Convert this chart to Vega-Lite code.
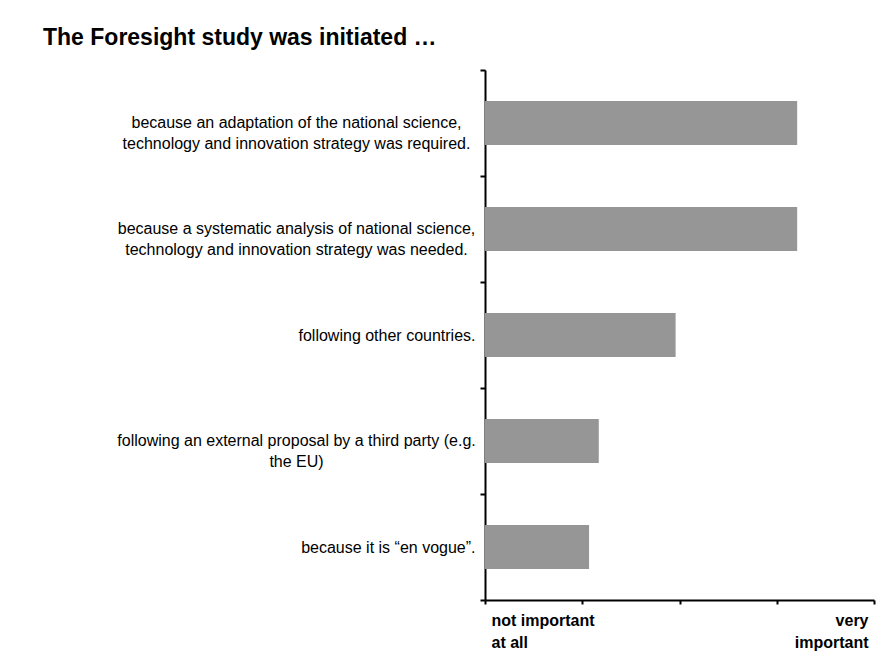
{
  "$schema": "https://vega.github.io/schema/vega-lite/v6.json",
  "width": 389,
  "height": 530,
  "autosize": {"type": "none"},
  "padding": {"left": 485, "top": 70, "right": 8, "bottom": 68},
  "background": "white",
  "title": {
    "text": "The Foresight study was initiated …",
    "anchor": "start",
    "frame": "group",
    "font": "Liberation Sans",
    "fontSize": 23,
    "fontWeight": "bold",
    "color": "black",
    "offset": 0,
    "dx": -442,
    "dy": -12
  },
  "data": {
    "values": [
      {"reason": "because an adaptation of the national science,|technology and innovation strategy was required.", "importance": 4.21},
      {"reason": "because a systematic analysis of national science,|technology and innovation strategy was needed.", "importance": 4.21},
      {"reason": "following other countries.", "importance": 2.96},
      {"reason": "following an external proposal by a third party (e.g.|the EU)", "importance": 2.17},
      {"reason": "because it is “en vogue”.", "importance": 2.07}
    ]
  },
  "encoding": {
    "y": {
      "field": "reason",
      "type": "nominal",
      "sort": null,
      "scale": {"paddingInner": 0, "paddingOuter": 0}
    },
    "x": {
      "field": "importance",
      "type": "quantitative",
      "scale": {"domain": [1, 5]},
      "axis": {
        "title": null,
        "values": [1, 2, 3, 4, 5],
        "grid": false,
        "labelExpr": "datum.value == 1 ? ['not important', 'at all'] : datum.value == 5 ? ['very', 'important'] : ''",
        "labelFont": "Liberation Sans",
        "labelFontWeight": "bold",
        "labelFontSize": 16,
        "labelLineHeight": 22,
        "labelColor": "black",
        "labelOverlap": false,
        "labelBaseline": "top",
        "labelPadding": 8,
        "labelFlush": true,
        "labelFlushOffset": -6,
        "tickSize": 4,
        "tickWidth": 2,
        "tickColor": "black",
        "domainColor": "black",
        "domainWidth": 2
      }
    },
    "x2": {"datum": 1}
  },
  "layer": [
    {
      "mark": {"type": "bar", "color": "#969696", "height": {"band": 0.415}},
      "encoding": {
        "y": {
          "field": "reason",
          "type": "nominal",
          "sort": null,
          "axis": {
            "orient": "left",
            "title": null,
            "labelExpr": "indexof(datum.label, '|') >= 0 ? '' : datum.label",
            "labelFont": "Liberation Sans",
            "labelFontSize": 16,
            "labelColor": "black",
            "labelLimit": 500,
            "labelOverlap": false,
            "labelAlign": "right",
            "labelPadding": 5,
            "tickBand": "extent",
            "tickSize": 5,
            "tickWidth": 2,
            "tickColor": "black",
            "domainColor": "black",
            "domainWidth": 2
          }
        }
      }
    },
    {
      "mark": {"type": "bar", "color": "#969696", "fillOpacity": 0, "height": {"band": 0.415}},
      "encoding": {
        "y": {
          "field": "reason",
          "type": "nominal",
          "sort": null,
          "axis": {
            "orient": "left",
            "title": null,
            "labelExpr": "indexof(datum.label, '|') >= 0 ? split(datum.label, '|') : ''",
            "labelFont": "Liberation Sans",
            "labelFontSize": 16,
            "labelLineHeight": 21,
            "labelColor": "black",
            "labelLimit": 500,
            "labelOverlap": false,
            "labelAlign": "center",
            "labelPadding": 189,
            "ticks": false,
            "domain": false
          }
        }
      }
    }
  ],
  "resolve": {"axis": {"y": "independent"}},
  "config": {"view": {"stroke": null}}
}
